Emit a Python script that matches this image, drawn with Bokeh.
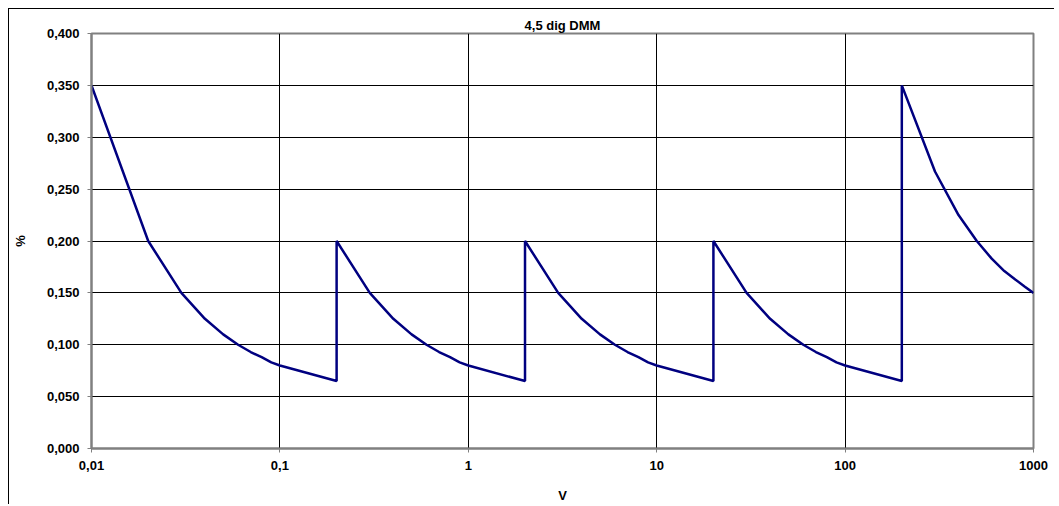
from bokeh.plotting import figure
from bokeh.models import Range1d, FixedTicker, CustomJSTickFormatter
from bokeh.embed import file_html
from bokeh.resources import INLINE

# Data (volts vs. % error), one list per range
r1_x = [0.01, 0.02, 0.03, 0.04, 0.05, 0.06, 0.07, 0.08, 0.09, 0.1, 0.2]
r1_y = [0.350, 0.200, 0.150, 0.125, 0.110, 0.100, 0.093, 0.088, 0.083, 0.080, 0.065]
r2_x = [0.2, 0.3, 0.4, 0.5, 0.6, 0.7, 0.8, 0.9, 1, 2]
r2_y = [0.200, 0.150, 0.125, 0.110, 0.100, 0.093, 0.088, 0.083, 0.080, 0.065]
r3_x = [2, 3, 4, 5, 6, 7, 8, 9, 10, 20]
r3_y = [0.200, 0.150, 0.125, 0.110, 0.100, 0.093, 0.088, 0.083, 0.080, 0.065]
r4_x = [20, 30, 40, 50, 60, 70, 80, 90, 100, 200]
r4_y = [0.200, 0.150, 0.125, 0.110, 0.100, 0.093, 0.088, 0.083, 0.080, 0.065]
r5_x = [200, 300, 400, 500, 600, 700, 800, 900, 1000]
r5_y = [0.350, 0.267, 0.225, 0.200, 0.183, 0.171, 0.163, 0.156, 0.150]

x_ticks = [0.01, 0.1, 1, 10, 100, 1000]
y_ticks = [0.0, 0.05, 0.10, 0.15, 0.20, 0.25, 0.30, 0.35, 0.40]

title_text = "4,5 dig DMM"
x_label = "V"
y_label = "%"

xs = r1_x + r2_x + r3_x + r4_x + r5_x
ys = r1_y + r2_y + r3_y + r4_y + r5_y

FONT = "Liberation Sans"

p = figure(width=1046, height=496, x_axis_type="log",
           x_range=Range1d(0.01, 1000), y_range=Range1d(0, 0.4),
           output_backend="svg", toolbar_location=None,
           min_border_left=82, min_border_right=22,
           min_border_top=24, min_border_bottom=57)
p.styles = {"border-left": "1px solid black", "border-top": "1px solid black",
            "margin-left": "8px", "margin-top": "8px"}

p.title.text = title_text
p.title.align = "center"
p.title.text_font = FONT
p.title.text_font_size = "13px"
p.title.text_font_style = "bold"
p.title.text_color = "black"
p.title.offset = 0
p.title.standoff = 1

p.line(xs, ys, line_color="#000080", line_width=2.5)

p.outline_line_color = "#808080"
p.outline_line_width = 2

for ax in (p.xaxis[0], p.yaxis[0]):
    ax.axis_line_color = "#808080"
    ax.axis_line_width = 2
    ax.major_tick_line_color = "#808080"
    ax.major_tick_line_width = 1
    ax.major_tick_in = 0
    ax.major_tick_out = 4
    ax.minor_tick_line_color = None
    ax.major_label_text_font = FONT
    ax.major_label_text_font_size = "13px"
    ax.major_label_text_font_style = "bold"
    ax.major_label_text_color = "black"
    ax.axis_label_text_font = FONT
    ax.axis_label_text_font_size = "13px"
    ax.axis_label_text_font_style = "bold"
    ax.axis_label_text_color = "black"

p.xaxis.ticker = FixedTicker(ticks=x_ticks)
p.xaxis.formatter = CustomJSTickFormatter(code="return String(tick).replace('.', ',');")
p.xaxis.major_label_standoff = 8
p.xaxis.axis_label = x_label
p.xaxis.axis_label_standoff = 15

p.yaxis.ticker = FixedTicker(ticks=y_ticks)
p.yaxis.formatter = CustomJSTickFormatter(code="return tick.toFixed(3).replace('.', ',');")
p.yaxis.major_label_standoff = 8
p.yaxis.axis_label = y_label
p.yaxis.axis_label_standoff = 16

p.xgrid.grid_line_color = "black"
p.xgrid.grid_line_width = 1
p.ygrid.grid_line_color = "black"
p.ygrid.grid_line_width = 1

open("out.html", "w").write(file_html(p, INLINE))
